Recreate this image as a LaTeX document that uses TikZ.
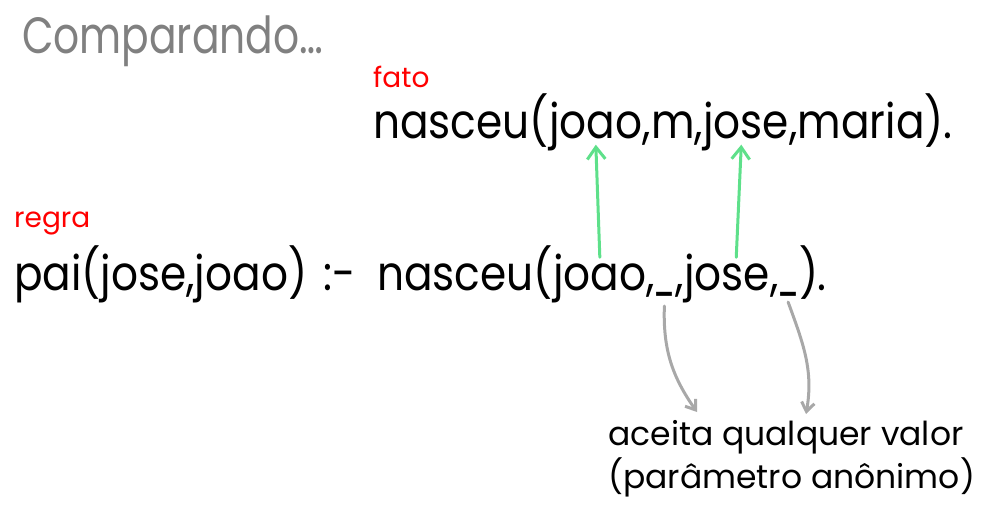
\documentclass[tikz,border=0pt]{standalone}
\usepackage{fontspec}
\setmainfont{Poppins}
\newfontfamily\codefont{Poppins}[FakeStretch=0.88]
\newfontfamily\titlefont{Poppins}[FakeStretch=0.8]
\usetikzlibrary{arrows.meta, positioning}
\definecolor{mygreen}{HTML}{5EE08A}
\definecolor{mygray}{HTML}{A8A8A8}
\definecolor{mytitle}{HTML}{808080}
\definecolor{myred}{HTML}{FF0000}
\newcommand{\anyarg}{\scalebox{0.7}[1]{\_}}

\begin{document}
\begin{tikzpicture}[x=1pt, y=-1pt,
	code/.style={inner sep=0pt, anchor=base west, font=\codefont\fontsize{48}{54}\selectfont},
	tag/.style={inner sep=0pt, anchor=base west, text=myred, font=\fontsize{28}{32}\selectfont},
	note/.style={inner sep=0pt, anchor=base west, font=\fontsize{33}{38}\selectfont},
	match/.style={mygreen, line width=3pt, line cap=round, -{Straight Barb[length=12pt, width=18pt]}},
	anon/.style={mygray, line width=3pt, line cap=round, -{Straight Barb[length=9pt, width=13pt]}}]
	\useasboundingbox (0,0) rectangle (988,531);
	% title
	\node[inner sep=0pt, anchor=base west, text=mytitle, font=\titlefont\fontsize{51}{56}\selectfont] (title) at (22,53) {Comparando…};
	% fact
	\node[tag] (fact) at (373,87) {fato};
	\node[code] (fhead) at (373,138) {nasceu(};
	\node[code] (fjoao) at (fhead.base east) {joao};
	\node[code] (fm) at (fjoao.base east) {,m,};
	\node[code] (fjose) at (fm.base east) {jose};
	\node[code] (fend) at (fjose.base east) {,maria).};
	% rule
	\node[tag] (rule) at (14,227) {regra};
	\node[code] (rhead) at (14,290) {pai(jose,joao)};
	\node[code] (rneck) at ([xshift=16pt]rhead.base east) {:-};
	\node[code] (rbody) at (377,290) {nasceu(};
	\node[code] (rjoao) at (rbody.base east) {joao};
	\node[code] (rc1) at (rjoao.base east) {,};
	\node[code] (rany1) at ([xshift=-2pt]rc1.base east) {\anyarg};
	\node[code] (rc2) at (rany1.base east) {,};
	\node[code] (rjose) at (rc2.base east) {jose};
	\node[code] (rc3) at (rjose.base east) {,};
	\node[code] (rany2) at ([xshift=-2pt]rc3.base east) {\anyarg};
	\node[code] (rend) at (rany2.base east) {)\kern-1pt.};
	% note
	\node[note] (note1) at (608,445) {aceita qualquer valor};
	\node[note] (note2) at (608,488) {(parâmetro anônimo)};
	\coordinate (tip1) at (697,412);
	\coordinate (tip2) at (806,414);
	% arrows
	\draw[match] ([yshift=-4pt]rjoao.north) -- ([yshift=6pt]fjoao.south);
	\draw[match] ([xshift=9pt, yshift=-4pt]rjose.north) -- ([xshift=-5pt, yshift=6pt]fjose.south);
	\draw[anon] ([yshift=-10pt]rany1.south) to[out=-92, in=125] (tip1);
	\draw[anon] ([yshift=-6pt]rany2.south) to[out=-70, in=80] (tip2);
\end{tikzpicture}
\end{document}
